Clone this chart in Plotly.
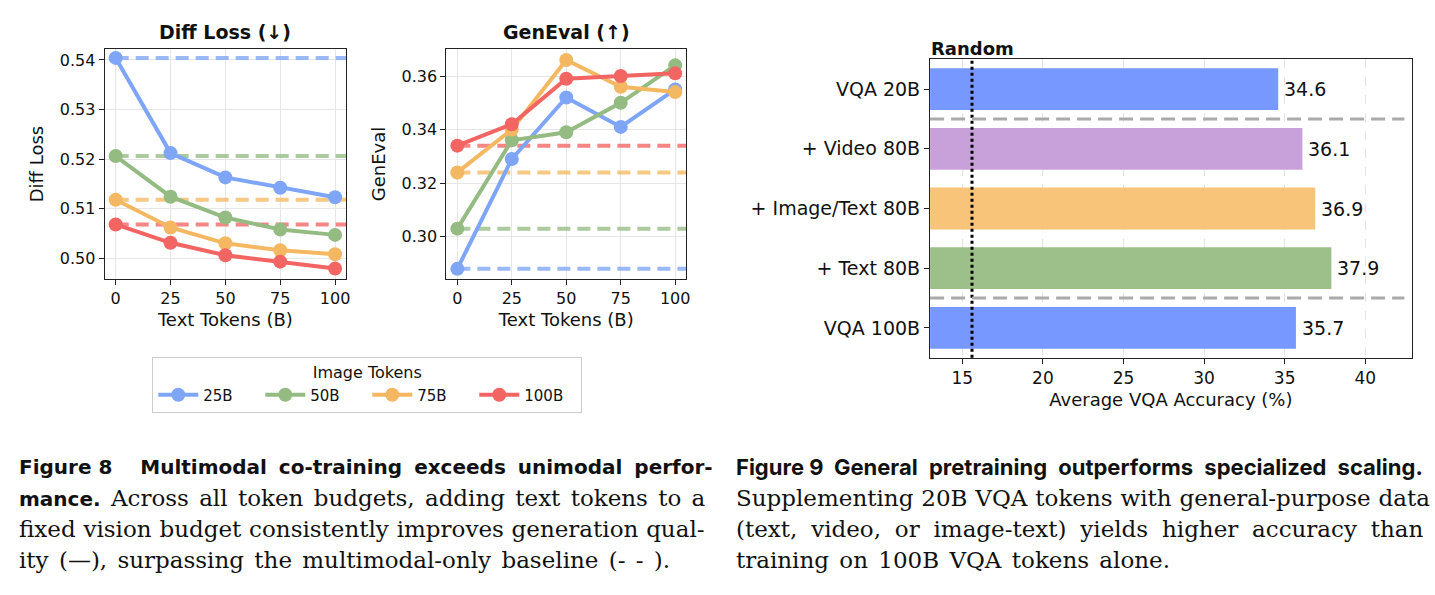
import plotly.graph_objects as go

W, H = 1435, 595

# ---------------- data ----------------
text_tokens = [0, 25, 50, 75, 100]
image_tokens = ["25B", "50B", "75B", "100B"]

diff_loss_25b = [0.5404, 0.5212, 0.5163, 0.5142, 0.5123]
diff_loss_50b = [0.5206, 0.5124, 0.5082, 0.5058, 0.5047]
diff_loss_75b = [0.5118, 0.5062, 0.5030, 0.5016, 0.5008]
diff_loss_100b = [0.5068, 0.5031, 0.5006, 0.4993, 0.4979]
diff_loss_baseline = [0.5404, 0.5206, 0.5118, 0.5068]

geneval_25b = [0.288, 0.329, 0.352, 0.341, 0.355]
geneval_50b = [0.303, 0.336, 0.339, 0.350, 0.364]
geneval_75b = [0.324, 0.340, 0.366, 0.356, 0.354]
geneval_100b = [0.334, 0.342, 0.359, 0.360, 0.361]
geneval_baseline = [0.288, 0.303, 0.324, 0.334]

vqa_labels = ["VQA 20B", "+ Video 80B", "+ Image/Text 80B", "+ Text 80B", "VQA 100B"]
vqa_accuracy = [34.6, 36.1, 36.9, 37.9, 35.7]
random_accuracy = 15.6
separator_after = [0, 3]

line_colors = ["#7FA6F6", "#94BC82", "#F5B862", "#F26563"]
bar_colors = ["#7799FF", "#C8A0DA", "#F8C47A", "#9DC08B", "#7799FF"]

FONT = "DejaVu Sans"


def px(x):
    return x / W


def py(y):
    return 1 - y / H


fig = go.Figure()

diff_series = [diff_loss_25b, diff_loss_50b, diff_loss_75b, diff_loss_100b]
gen_series = [geneval_25b, geneval_50b, geneval_75b, geneval_100b]
x_end = max(text_tokens) * 1.05

for (series, base, xa, ya, show) in [
    (diff_series, diff_loss_baseline, "x", "y", True),
    (gen_series, geneval_baseline, "x2", "y2", False),
]:
    for i, b in enumerate(base):
        fig.add_trace(go.Scatter(
            x=[min(text_tokens), x_end], y=[b, b], mode="lines",
            line=dict(color=line_colors[i], width=4, dash="13px,7px"),
            opacity=0.78, showlegend=False, hoverinfo="skip",
            xaxis=xa, yaxis=ya, cliponaxis=True))
    for i, s in enumerate(series):
        fig.add_trace(go.Scatter(
            x=text_tokens, y=s, mode="lines+markers", name=image_tokens[i],
            line=dict(color=line_colors[i], width=4),
            marker=dict(color=line_colors[i], size=14),
            showlegend=show, xaxis=xa, yaxis=ya, cliponaxis=False))

fig.add_trace(go.Bar(
    x=vqa_accuracy, y=vqa_labels, orientation="h",
    marker=dict(color=bar_colors, line=dict(width=0)),
    width=0.7, showlegend=False, xaxis="x3", yaxis="y3"))

axis_common = dict(
    showline=True, linecolor="#222222", linewidth=1.3, mirror=True,
    ticks="outside", ticklen=5, tickcolor="#222222", tickwidth=1.2,
    zeroline=False,
)

left_tick_font = dict(family=FONT, size=16, color="#111111")
left_title_font = dict(family=FONT, size=18, color="#111111")

fig.update_layout(
    width=W, height=H,
    margin=dict(l=0, r=0, t=0, b=0),
    paper_bgcolor="white", plot_bgcolor="white",
    font=dict(family=FONT, color="#111111"),
    xaxis=dict(domain=[px(105), px(347)], range=[-5, 105], tickvals=text_tokens,
               showgrid=True, gridcolor="#e6e6e6", gridwidth=1,
               tickfont=left_tick_font,
               title=dict(text="Text Tokens (B)", font=left_title_font, standoff=6),
               anchor="y", **axis_common),
    yaxis=dict(domain=[py(279), py(49)], range=[0.4958, 0.5422], dtick=0.01,
               tickformat=".2f", showgrid=True, gridcolor="#e6e6e6", gridwidth=1,
               tickfont=left_tick_font,
               title=dict(text="Diff Loss", font=left_title_font, standoff=11),
               anchor="x", **axis_common),
    xaxis2=dict(domain=[px(447.7), px(688)], range=[-5, 105], tickvals=text_tokens,
                showgrid=True, gridcolor="#e6e6e6", gridwidth=1,
                tickfont=left_tick_font,
                title=dict(text="Text Tokens (B)", font=left_title_font, standoff=6),
                anchor="y2", **axis_common),
    yaxis2=dict(domain=[py(279), py(49)], range=[0.2842, 0.3701], dtick=0.02,
                tickformat=".2f", showgrid=True, gridcolor="#e6e6e6", gridwidth=1,
                tickfont=left_tick_font,
                title=dict(text="GenEval", font=left_title_font, standoff=11),
                anchor="x2", **axis_common),
    xaxis3=dict(domain=[px(932.7), px(1415.6)], range=[13.0, 42.88], dtick=5,
                tick0=0, showgrid=True, gridcolor="#e3e3e3", gridwidth=1,
                griddash="dash",
                tickfont=dict(family=FONT, size=17, color="#111111"),
                title=dict(text="Average VQA Accuracy (%)",
                           font=dict(family=FONT, size=18, color="#111111"),
                           standoff=6),
                anchor="y3", **axis_common),
    yaxis3=dict(domain=[py(357.7), py(59.3)], range=[4.5, -0.5],
                type="category", categoryorder="array", categoryarray=vqa_labels,
                showgrid=False,
                tickfont=dict(family=FONT, size=19, color="#111111"),
                anchor="x3", **axis_common),
    legend=dict(
        orientation="h", x=px(152.7), y=py(356.7), xanchor="left", yanchor="top",
        bgcolor="white", bordercolor="#cccccc", borderwidth=1,
        font=dict(family=FONT, size=15, color="#111111"),
        title=dict(text="Image Tokens", side="top center",
                   font=dict(family=FONT, size=16, color="#111111")),
        entrywidth=52, entrywidthmode="pixels", itemwidth=40,
    ),
)

annotations = []
# subplot titles
for text, xc in [("Diff Loss (↓)", (105 + 347) / 2), ("GenEval (↑)", (447.7 + 688) / 2)]:
    annotations.append(dict(x=px(xc), y=py(32), xref="paper", yref="paper",
                            text=f"<b>{text}</b>", showarrow=False,
                            font=dict(family=FONT, size=19, color="#111111"),
                            xanchor="center", yanchor="middle"))
# bar value labels
for lab, v in zip(vqa_labels, vqa_accuracy):
    annotations.append(dict(x=v, y=lab, xref="x3", yref="y3", text=f"{v:.1f}",
                            showarrow=False, xanchor="left", yanchor="middle",
                            xshift=4, font=dict(family=FONT, size=19, color="#111111")))
# random label
annotations.append(dict(x=random_accuracy, y=1, xref="x3", yref="y3 domain",
                        text="<b>Random</b>", showarrow=False, xanchor="center",
                        yanchor="bottom", yshift=-2,
                        font=dict(family=FONT, size=18, color="#111111")))

# ---------------- captions ----------------
SERIF = "DejaVu Serif"
SERIF_SIZE = 23
NB = "&nbsp;"


def seg(text, family, size, bold, ws):
    w = "bold" if bold else "normal"
    return (f'<span style="font-family:{family};font-size:{size}px;'
            f'font-weight:{w};word-spacing:{ws}px">{text}</span>')


H8 = ("DejaVu Sans", 20)
H9 = ("Inter", 22)
BODY = (SERIF, SERIF_SIZE)

cap8 = [
    [("Figure 8" + NB * 4, H8, True, 0), ("Multimodal co-training exceeds unimodal perfor-", H8, True, 5)],
    [("mance.", H8, True, 0), (NB + "Across all token budgets, adding text tokens to a", BODY, False, 3)],
    [("fixed vision budget consistently improves generation qual-", BODY, False, 0.5)],
    [("ity (—), surpassing the multimodal-only baseline (- - ).", BODY, False, 3)],
]
cap9 = [
    [("Figure 9" + NB * 2, H9, True, 0), ("General pretraining outperforms specialized scaling.", H9, True, 6)],
    [("Supplementing 20B VQA tokens with general-purpose data", BODY, False, 0.6)],
    [("(text, video, or image-text) yields higher accuracy than", BODY, False, 6.5)],
    [("training on 100B VQA tokens alone.", BODY, False, 3)],
]
line_y = [467, 498, 529, 560]
for cap, x0 in [(cap8, 17), (cap9, 736)]:
    for segs, yy in zip(cap, line_y):
        txt = "".join(seg(t, f[0], f[1], b, ws) for (t, f, b, ws) in segs)
        annotations.append(dict(x=px(x0), y=py(yy), xref="paper", yref="paper",
                                text=txt, showarrow=False, xanchor="left",
                                yanchor="middle", align="left",
                                font=dict(family=SERIF, size=SERIF_SIZE, color="#111111")))

fig.update_layout(annotations=annotations)

fig.add_shape(type="line", x0=random_accuracy, x1=random_accuracy, y0=0, y1=1,
              xref="x3", yref="y3 domain",
              line=dict(color="black", width=3, dash="dot"), layer="above")
for k in separator_after:
    fig.add_shape(type="line", x0=0, x1=0.985, y0=k + 0.5, y1=k + 0.5,
                  xref="x3 domain", yref="y3",
                  line=dict(color="#aaaaaa", width=3, dash="14px,7px"), layer="above")

fig.write_html("out.html")
